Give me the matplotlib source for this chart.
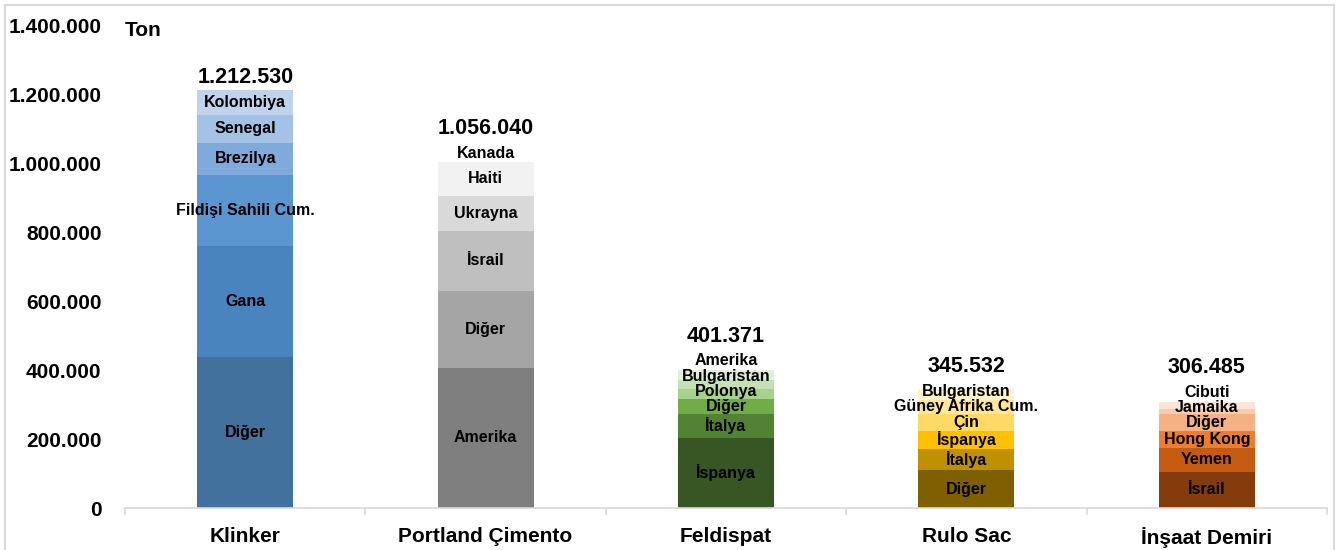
import matplotlib
matplotlib.use("Agg")
import matplotlib.pyplot as plt
from matplotlib.patches import Rectangle
import numpy as np

plt.rcParams['font.family'] = ['Liberation Sans', 'DejaVu Sans']
plt.rcParams['font.weight'] = 'bold'

# urunler ve toplamlar
products = ["Klinker", "Portland Çimento", "Feldispat", "Rulo Sac", "İnşaat Demiri"]
totals = [1212530, 1056040, 401371, 345532, 306485]

# ulke kirilimlari (alttan uste)
klinker_countries = ["Diğer", "Gana", "Fildişi Sahili Cum.", "Brezilya", "Senegal", "Kolombiya"]
klinker_values = [439000, 322000, 207000, 91000, 83000, 70530]

portland_countries = ["Amerika", "Diğer", "İsrail", "Ukrayna", "Haiti", "Kanada"]
portland_values = [407000, 224000, 174000, 102000, 97000, 52040]

feldispat_countries = ["İspanya", "İtalya", "Diğer", "Polonya", "Bulgaristan", "Amerika"]
feldispat_values = [204000, 69000, 44000, 29000, 26000, 29371]

rulo_countries = ["Diğer", "İtalya", "İspanya", "Çin", "Güney Afrika Cum.", "Bulgaristan"]
rulo_values = [110000, 61500, 53300, 48200, 41000, 31532]

insaat_countries = ["İsrail", "Yemen", "Hong Kong", "Diğer", "Jamaika", "Cibuti"]
insaat_values = [105500, 69500, 49000, 48000, 16000, 18485]

yticks = [0, 200000, 400000, 600000, 800000, 1000000, 1200000, 1400000]

palettes = [
    ["#41719C", "#4A84BE", "#5B96D0", "#7FAADB", "#A4C2E6", "#BFD3EC"],
    ["#7F7F7F", "#A5A5A5", "#BFBFBF", "#D9D9D9", "#F2F2F2", "#FFFFFF"],
    ["#375623", "#548235", "#70AD47", "#A9D18E", "#C5E0B4", "#E2F0D9"],
    ["#7F6000", "#BF9000", "#FFC000", "#FFD966", "#FFE699", "#FFF2CC"],
    ["#843C0C", "#C55A11", "#ED7D31", "#F4B183", "#F8CBAD", "#FBE5D6"],
]

stacks = [
    (klinker_countries, klinker_values),
    (portland_countries, portland_values),
    (feldispat_countries, feldispat_values),
    (rulo_countries, rulo_values),
    (insaat_countries, insaat_values),
]

fig = plt.figure(figsize=(13.44, 5.5), dpi=100)
ax = fig.add_axes([125 / 1344, 1 - 508 / 550, 1202 / 1344, (508 - 25.7) / 550])

x = np.arange(len(products))
width = 0.4
min_gap = 44000

for i, (names, vals) in enumerate(stacks):
    bottoms = np.concatenate([[0], np.cumsum(vals)[:-1]])
    ax.bar(x[i], vals, width, bottom=bottoms, color=palettes[i], linewidth=0)
    last_y = -1e9
    for name, v, b in zip(names, vals, bottoms):
        y = max(b + v / 2, last_y + min_gap)
        ax.text(x[i], y, name, ha="center", va="center", fontsize=11.5,
                fontweight="bold", color="black")
        last_y = y
    total_y = max(totals[i] + 37000, last_y + 72000)
    ax.text(x[i], total_y, f"{totals[i]:,}".replace(",", "."), ha="center",
            va="center", fontsize=15.5, fontweight="bold")

ax.set_xlim(-0.5, len(products) - 0.5)
ax.set_ylim(0, 1400000)
ax.set_yticks(yticks)
ax.set_yticklabels([f"{v:,}".replace(",", ".") for v in yticks], fontsize=15,
                   fontweight="bold")
ax.tick_params(axis="y", length=0, pad=17)

ax.set_xticks(x)
ax.set_xticklabels(products, fontsize=15, fontweight="bold")
ax.set_xticks(np.arange(-0.5, len(products)), minor=True)
ax.tick_params(axis="x", which="major", length=0, pad=14)
ax.tick_params(axis="x", which="minor", length=5, color="#D9D9D9", width=1.2)

for s in ["top", "right", "left"]:
    ax.spines[s].set_visible(False)
ax.spines["bottom"].set_color("#D9D9D9")
ax.spines["bottom"].set_linewidth(1.2)

ax.text(0.0, 0.99, "Ton", transform=ax.transAxes, ha="left", va="center",
        fontsize=15, fontweight="bold")

fig.patches.append(Rectangle((5 / 1344, -0.01), 1329 / 1344, 1 - 5 / 550 + 0.01,
                             transform=fig.transFigure, fill=False,
                             edgecolor="#D9D9D9", linewidth=1.5))

fig.savefig("out.png", dpi=100)
